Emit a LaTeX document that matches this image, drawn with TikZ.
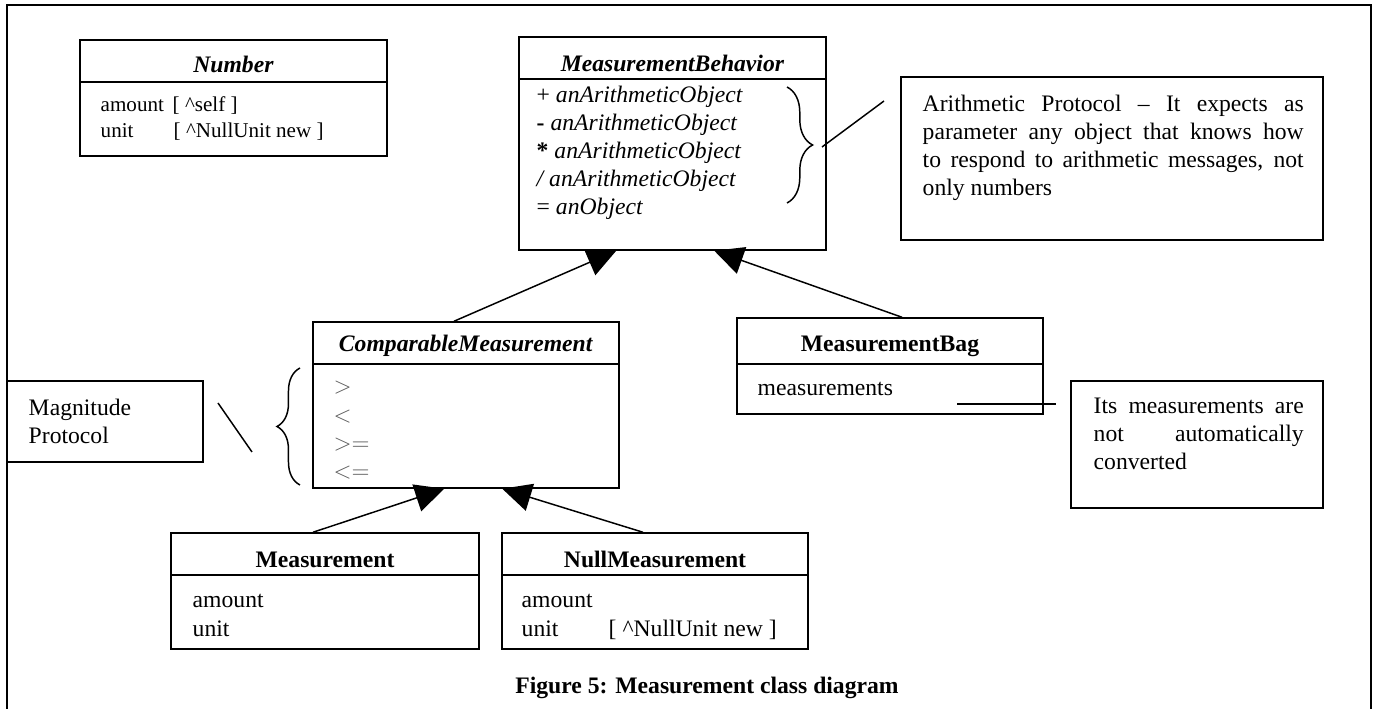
\documentclass[tikz,border=0pt]{standalone}
\usepackage{fontspec}
\setmainfont{Liberation Serif}
\usetikzlibrary{arrows.meta,decorations.pathreplacing,fit,calc}

\tikzset{
  classbox/.style={draw, line width=0.75pt, inner sep=0pt, fit={#1}},
  cname/.style={anchor=base, inner sep=0pt, font=\fontsize{12}{14.2}\selectfont\bfseries},
  attr/.style={anchor=base west, inner sep=0pt},
  smallattr/.style={attr, font=\fontsize{10.7}{13}\selectfont},
  relop/.style={attr, text=black!65, font=\fontsize{13}{15}\selectfont},
  notetext/.style={anchor=north west, inner sep=0pt, align=justify,
    execute at begin node={\hyphenpenalty=10000\tolerance=10000}},
  isa/.style={-{Triangle[length=14.7pt,width=14.2pt]}, line width=0.75pt},
  curly/.style={decorate, decoration={brace,amplitude=#1}, line width=0.75pt}
}

\begin{document}
\begin{tikzpicture}[x=0.5076pt, y=-0.5076pt, font=\fontsize{12}{14.2}\selectfont, line width=0.75pt]
\useasboundingbox (0,0) rectangle (1374,709);
\draw[line width=1pt] (7,709) |- (1371,5) -- (1371,709);

\node[classbox={(80,40)(387,156)}] (num) {};
\draw (80,82) -- (387,82);
\node[cname] (numname) at (233.5,73) {\textit{Number}};
\node[smallattr] (numamount) at (100,112) {amount};
\node[smallattr] (numself) at (172,112) {[ \textasciicircum{}self ]};
\node[smallattr] (numunit) at (100,138) {unit};
\node[smallattr] (numnull) at (173,138) {[ \textasciicircum{}NullUnit new ]};

\node[classbox={(519,37)(826,250)}] (mb) {};
\draw (519,79) -- (826,79);
\node[cname] (mbname) at (672.5,72) {\textit{MeasurementBehavior}};
\node[attr] (mbplus) at (536,103) {+ \textit{anArithmeticObject}};
\node[attr] (mbminus) at (536,131) {\textbf{-} \textit{anArithmeticObject}};
\node[attr] (mbtimes) at (536,159) {\textbf{*} \textit{anArithmeticObject}};
\node[attr] (mbdiv) at (536,187) {\textit{/ anArithmeticObject}};
\node[attr] (mbeq) at (536,215) {= \textit{anObject}};
\draw[curly=13pt] (787,87) -- (787,203);

\node[classbox={(901,77)(1323,240)}] (arith) {};
\node[notetext, text width=193.4pt] (arithtext) at (922,94) {Arithmetic Protocol -- It expects as\linebreak parameter any object that knows how\linebreak to respond to arithmetic messages, not\linebreak only numbers};
\coordinate (arbrace) at (822,147);
\coordinate (arnote) at (884,101);
\draw (arbrace) -- (arnote);

\node[classbox={(313,322)(619,488)}] (cmp) {};
\draw (313,364) -- (619,364);
\node[cname] (cmpname) at (466,352) {\textit{ComparableMeasurement}};
\node[relop] (cmpgt) at (333,394) {$>$};
\node[relop] (cmplt) at (333,423) {$<$};
\node[relop] (cmpge) at (333,451) {$>=$};
\node[relop] (cmple) at (333,479) {$<=$};
\draw[curly=11.7pt] (300,485) -- (300,368);

\node[classbox={(7,381)(203,462)}] (mag) {};
\node[anchor=north west, inner sep=0pt, align=left] (magtext) at (28,398) {Magnitude\\Protocol};
\coordinate (magnote) at (218,403);
\coordinate (magbrace) at (252,452);
\draw (magnote) -- (magbrace);

\node[classbox={(737,318)(1043,414)}] (bag) {};
\draw (737,364) -- (1043,364);
\node[cname] (bagname) at (890,352) {MeasurementBag};
\node[attr] (bagmeas) at (757,396) {measurements};

\node[classbox={(1071,381)(1323,508)}] (conv) {};
\node[notetext, text width=106.6pt] (convtext) at (1093,397) {Its measurements are\linebreak not automatically\linebreak converted};
\coordinate (bagin) at (957,404);
\coordinate (bagout) at (1056,404);
\draw (bagin) -- (bagout);

\node[classbox={(171,533)(479,649)}] (meas) {};
\draw (171,575) -- (479,575);
\node[cname] (measname) at (325,568) {Measurement};
\node[attr] (measamount) at (192,608) {amount};
\node[attr] (measunit) at (192,637) {unit};

\node[classbox={(502,533)(808,649)}] (null) {};
\draw (502,575) -- (808,575);
\node[cname] (nullname) at (655,568) {NullMeasurement};
\node[attr] (nullamount) at (521,608) {amount};
\node[attr] (nullunit) at (521,637) {unit};
\node[attr] (nullnew) at (608,637) {[ \textasciicircum{}NullUnit new ]};

\draw[isa] ($(cmp.north)+(-12,0)$) -- ($(mb.south west)+(98,0)$);
\draw[isa] ($(bag.north)+(12,0)$) -- ($(mb.south west)+(196,0)$);
\draw[isa] ($(meas.north)+(-12,0)$) -- ($(cmp.south west)+(132,0)$);
\draw[isa] ($(null.north)+(-12,0)$) -- ($(cmp.south west)+(190,0)$);

\node[cname] (caption) at (707,694) {Figure 5: Measurement class diagram};
\end{tikzpicture}
\end{document}
